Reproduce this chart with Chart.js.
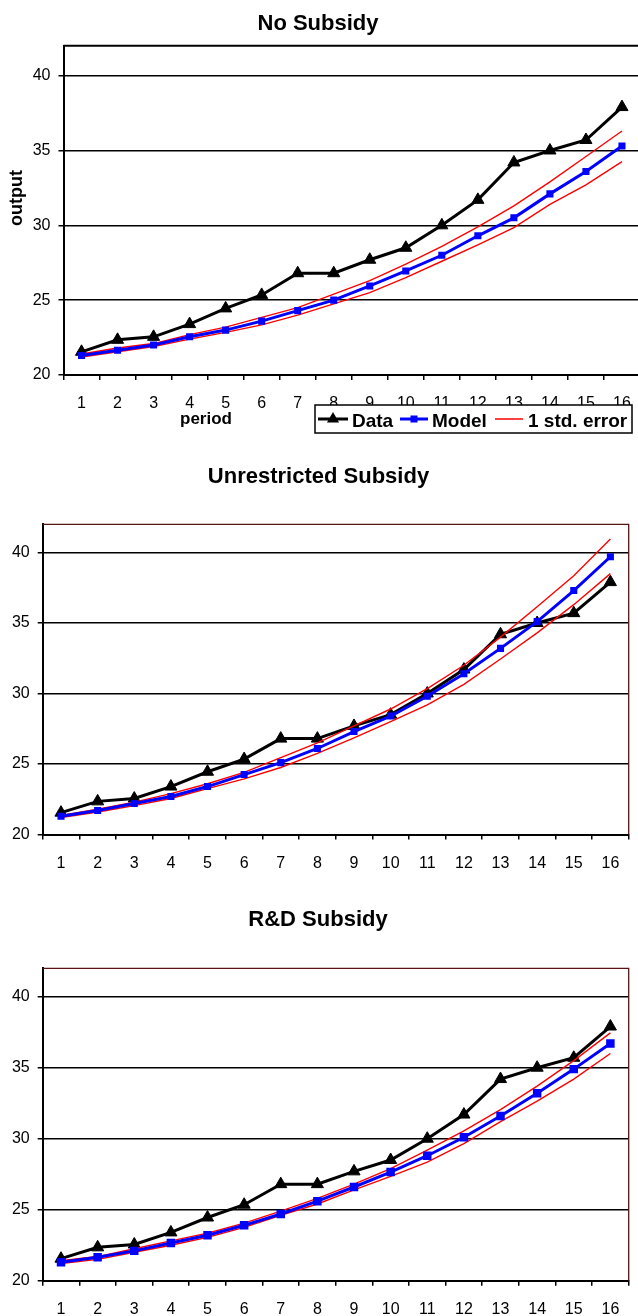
<!DOCTYPE html>
<html>
<head>
<meta charset="utf-8">
<script src="https://cdn.jsdelivr.net/npm/chart.js@4.4.0/dist/chart.umd.min.js"></script>
<style>
  html, body { margin: 0; padding: 0; background: #fff; overflow: hidden; width: 638px; height: 1316px; }
  .wrap { position: absolute; left: 0; overflow: hidden; width: 638px; }
  canvas { display: block; }
</style>
</head>
<body>
<div class="wrap" style="top:0px;height:440px;"><canvas id="c1" width="648" height="440"></canvas></div>
<div class="wrap" style="top:440px;height:440px;"><canvas id="c2" width="638" height="440"></canvas></div>
<div class="wrap" style="top:880px;height:436px;"><canvas id="c3" width="638" height="436"></canvas></div>
<script>
// ---- data ----
const periods = ['1','2','3','4','5','6','7','8','9','10','11','12','13','14','15','16'];
const yTicks = [20, 25, 30, 35, 40];
const yMin = 20;
const yMax = 42;

const dataOutput = [21.55, 22.35, 22.55, 23.4, 24.45, 25.35, 26.8, 26.8, 27.7, 28.5, 30.0, 31.7, 34.2, 35.0, 35.7, 37.9];

const modelNoSubsidy = [21.3, 21.65, 22.0, 22.55, 23.0, 23.6, 24.3, 25.0, 25.95, 26.95, 28.0, 29.3, 30.5, 32.1, 33.6, 35.3];
const upperNoSubsidy = [21.4, 21.8, 22.1, 22.7, 23.2, 23.85, 24.5, 25.4, 26.3, 27.4, 28.6, 29.9, 31.3, 32.9, 34.6, 36.3];
const lowerNoSubsidy = [21.2, 21.55, 21.9, 22.4, 22.85, 23.35, 24.0, 24.75, 25.5, 26.5, 27.6, 28.7, 29.85, 31.4, 32.7, 34.25];

const modelUnrestricted = [21.3, 21.7, 22.2, 22.7, 23.4, 24.25, 25.1, 26.1, 27.3, 28.4, 29.8, 31.4, 33.2, 35.1, 37.3, 39.7];
const upperUnrestricted = [21.35, 21.8, 22.3, 22.9, 23.6, 24.4, 25.45, 26.5, 27.7, 28.9, 30.35, 32.0, 34.0, 36.15, 38.35, 40.95];
const lowerUnrestricted = [21.2, 21.6, 22.05, 22.55, 23.25, 23.95, 24.75, 25.75, 26.85, 28.0, 29.2, 30.65, 32.45, 34.3, 36.3, 38.5];

const modelRD = [21.3, 21.65, 22.1, 22.65, 23.2, 23.9, 24.7, 25.6, 26.6, 27.65, 28.8, 30.1, 31.6, 33.2, 34.9, 36.7];
const upperRD = [21.4, 21.7, 22.25, 22.8, 23.35, 24.05, 24.9, 25.8, 26.8, 27.9, 29.2, 30.55, 32.05, 33.7, 35.5, 37.45];
const lowerRD = [21.2, 21.5, 22.0, 22.5, 23.05, 23.75, 24.6, 25.4, 26.4, 27.35, 28.35, 29.65, 31.2, 32.65, 34.2, 36.0];

const FONT = '"Liberation Sans", Arial, Helvetica, sans-serif';

const decor = {
  id: 'decor',
  afterDraw(chart, args, o) {
    const ctx = chart.ctx, a = chart.chartArea;
    ctx.save();
    // top / right frame
    ctx.strokeStyle = o.frameColor;
    ctx.lineWidth = o.frameWidth;
    ctx.beginPath();
    ctx.moveTo(a.left, a.top);
    ctx.lineTo(a.right, a.top);
    ctx.lineTo(a.right, a.bottom);
    ctx.stroke();
    // title
    ctx.fillStyle = '#000';
    ctx.font = 'bold 22px ' + FONT;
    ctx.textAlign = 'center';
    ctx.textBaseline = 'alphabetic';
    ctx.fillText(o.title, o.titleX, o.titleY);
    if (o.extras) {
      // axis titles
      ctx.font = 'bold 17px ' + FONT;
      ctx.textBaseline = 'middle';
      ctx.fillText('period', 206, 419);
      ctx.save();
      ctx.translate(17, 198);
      ctx.rotate(-Math.PI / 2);
      ctx.font = 'bold 18px ' + FONT;
      ctx.fillText('output', 0, 0);
      ctx.restore();
      // legend box
      ctx.fillStyle = '#fff';
      ctx.fillRect(315, 405, 317, 28);
      ctx.strokeStyle = '#000';
      ctx.lineWidth = 1.5;
      ctx.strokeRect(315, 405, 317, 28);
      const ly = 419;
      // Data
      ctx.strokeStyle = '#000'; ctx.lineWidth = 3;
      ctx.beginPath(); ctx.moveTo(318, ly); ctx.lineTo(348, ly); ctx.stroke();
      ctx.fillStyle = '#000';
      ctx.beginPath();
      const r = 7;
      ctx.moveTo(333, ly - r);
      ctx.lineTo(333 + r * 0.866, ly + r * 0.5);
      ctx.lineTo(333 - r * 0.866, ly + r * 0.5);
      ctx.closePath(); ctx.fill();
      // Model
      ctx.strokeStyle = '#0000ff'; ctx.lineWidth = 3;
      ctx.beginPath(); ctx.moveTo(400, ly); ctx.lineTo(428, ly); ctx.stroke();
      ctx.fillStyle = '#0000ff';
      ctx.fillRect(410.5, ly - 3.5, 7, 7);
      // std error
      ctx.strokeStyle = '#ff0000'; ctx.lineWidth = 1.5;
      ctx.beginPath(); ctx.moveTo(495, ly); ctx.lineTo(523, ly); ctx.stroke();
      ctx.fillStyle = '#000';
      ctx.font = 'bold 19px ' + FONT;
      ctx.textAlign = 'left';
      ctx.textBaseline = 'alphabetic';
      ctx.fillText('Data', 352, 427);
      ctx.fillText('Model', 432, 427);
      ctx.fillText('1 std. error', 528, 427);
    }
    ctx.restore();
  }
};

function makeChart(id, model, upper, lower, g) {
  const ds = [
    { label: 'Model', data: model, borderColor: '#0000ff', backgroundColor: '#0000ff', borderWidth: 3,
      pointStyle: 'rect', pointRadius: g.sq, pointBorderWidth: 0, order: 0 },
    { label: '1 std. error', data: upper, borderColor: '#ff0000', borderWidth: 1.4, pointRadius: 0, order: 1 },
    { label: 'lower', data: lower, borderColor: '#ff0000', borderWidth: 1.4, pointRadius: 0, order: 2 },
    { label: 'Data', data: dataOutput, borderColor: '#000', backgroundColor: '#000', borderWidth: 3,
      pointStyle: 'triangle', pointRadius: 7, pointBorderWidth: 1, pointBorderColor: '#000', order: 3 }
  ];
  return new Chart(document.getElementById(id), {
    type: 'line',
    data: { labels: periods, datasets: ds },
    options: {
      responsive: false,
      animation: false,
      devicePixelRatio: 1,
      layout: { padding: { left: 0, top: g.top, right: g.right, bottom: 0 } },
      plugins: {
        legend: { display: false },
        tooltip: { enabled: false },
        decor: g.decor
      },
      scales: {
        x: {
          type: 'category',
          offset: true,
          grid: { offset: true, drawOnChartArea: false, drawTicks: true, tickLength: 5, color: '#000', lineWidth: 1.5 },
          border: { display: true, color: '#000', width: 2 },
          ticks: { color: '#000', font: { family: 'Liberation Sans', size: 16 }, padding: 14, maxRotation: 0, autoSkip: false },
          afterFit: s => { s.height = g.xh; s.paddingLeft = 0; s.paddingRight = 0; s.paddingTop = 0; s.paddingBottom = 0; }
        },
        y: {
          type: 'linear',
          min: yMin, max: yMax,
          afterBuildTicks: s => { s.ticks = yTicks.map(v => ({ value: v })); },
          grid: {
            color: c => (c.tick && c.tick.value === yMin) ? 'rgba(0,0,0,0)' : '#000',
            tickColor: '#000', lineWidth: 1.5, tickLength: 5, drawTicks: true
          },
          border: { display: true, color: '#000', width: 2 },
          ticks: { color: '#000', font: { family: 'Liberation Sans', size: 16 }, padding: 8 },
          afterFit: s => { s.width = g.yw; s.paddingLeft = 0; s.paddingRight = 0; s.paddingTop = 0; s.paddingBottom = 0; }
        }
      }
    },
    plugins: [decor]
  });
}

makeChart('c1', modelNoSubsidy, upperNoSubsidy, lowerNoSubsidy, {
  top: 45.7, right: 5, yw: 63.5, xh: 65, sq: 5.0,
  decor: { title: 'No Subsidy', titleX: 318, titleY: 30, frameColor: '#000', frameWidth: 2, extras: true }
});
makeChart('c2', modelUnrestricted, upperUnrestricted, lowerUnrestricted, {
  top: 84.3, right: 9.3, yw: 42.7, xh: 45.5, sq: 5.0,
  decor: { title: 'Unrestricted Subsidy', titleX: 318.5, titleY: 43.3, frameColor: '#5a1414', frameWidth: 1.3, extras: false }
});
makeChart('c3', modelRD, upperRD, lowerRD, {
  top: 88.3, right: 9.3, yw: 42.7, xh: 35.3, sq: 6.0,
  decor: { title: 'R&D Subsidy', titleX: 318, titleY: 46, frameColor: '#5a1414', frameWidth: 1.3, extras: false }
});
</script>
</body>
</html>
